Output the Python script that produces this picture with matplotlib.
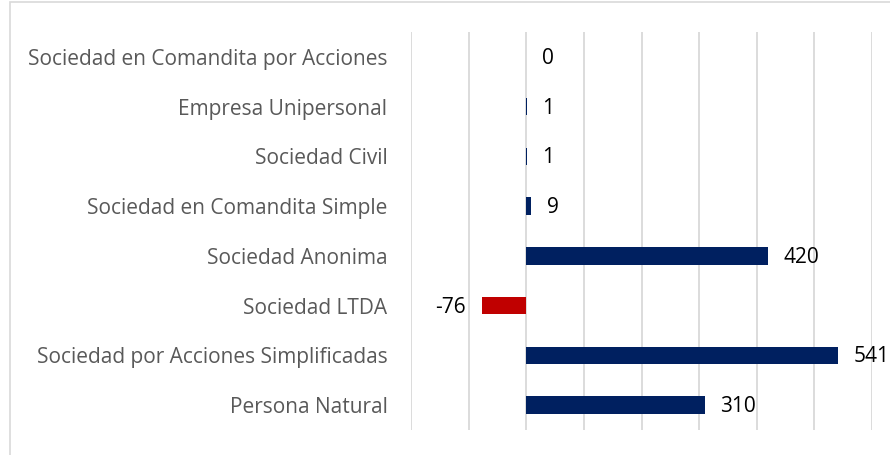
import matplotlib.pyplot as plt
from matplotlib.patches import Rectangle

categories = [
    "Persona Natural",
    "Sociedad por Acciones Simplificadas",
    "Sociedad LTDA",
    "Sociedad Anonima",
    "Sociedad en Comandita Simple",
    "Sociedad Civil",
    "Empresa Unipersonal",
    "Sociedad en Comandita por Acciones",
]
values = [310, 541, -76, 420, 9, 1, 1, 0]

navy = "#002060"
red = "#C00000"

plt.rcParams["font.family"] = ["Open Sans", "DejaVu Sans"]

fig = plt.figure(figsize=(8.9, 4.55), dpi=100)
W, H = 890, 455
ax = fig.add_axes([411 / W, 1 - 430 / H, (872 - 411) / W, (430 - 32) / H])

colors = [red if v < 0 else navy for v in values]
ypos = range(len(categories))
ax.barh(ypos, values, height=0.35, color=colors, linewidth=0)

for y, v in zip(ypos, values):
    if v < 0:
        ax.annotate(str(v), (v, y), xytext=(-12, -1), textcoords="offset points",
                    ha="right", va="center", fontsize=15, color="black")
    else:
        ax.annotate(str(v), (v, y), xytext=(11, -1), textcoords="offset points",
                    ha="left", va="center", fontsize=15, color="black")

ax.set_xlim(-200, 600)
ax.set_ylim(-0.5, len(categories) - 0.5)
ax.set_xticks(range(-200, 601, 100))
ax.set_xticklabels([])
ax.set_yticks(list(ypos))
ax.set_yticklabels(categories, fontsize=15, color="#595959")
ax.tick_params(axis="both", length=0)
ax.tick_params(axis="y", pad=17)
ax.grid(axis="x", color="#D9D9D9", linewidth=1.3)
ax.set_axisbelow(True)
for s in ax.spines.values():
    s.set_visible(False)

# outer chart frame
fig.patches.append(Rectangle((10 / W, -0.1), 1.0, 1 - 2 / H + 0.1,
                             transform=fig.transFigure, fill=False,
                             edgecolor="#D9D9D9", linewidth=1.2))

fig.savefig("out.png", dpi=100)
